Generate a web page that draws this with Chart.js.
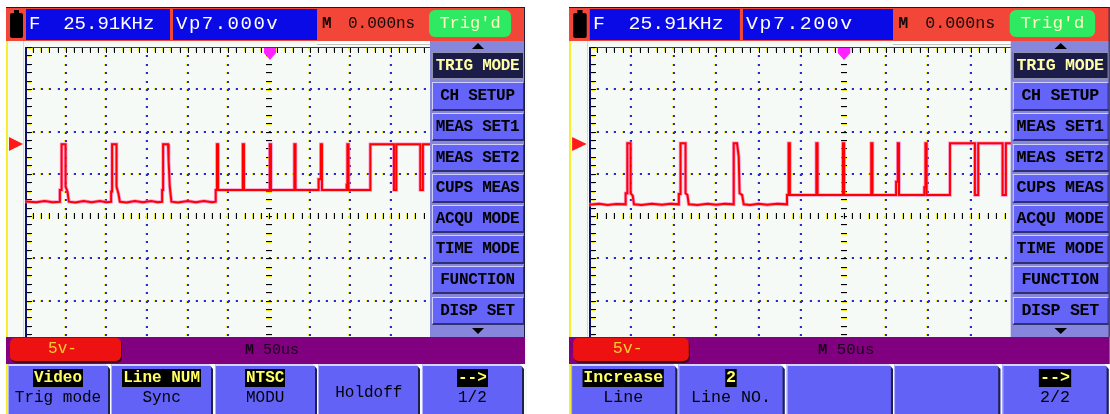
<!DOCTYPE html>
<html>
<head>
<meta charset="utf-8">
<script src="https://cdn.jsdelivr.net/npm/chart.js@4.4.1/dist/chart.umd.min.js"></script>
<style>
body { margin: 0; width: 1110px; height: 414px; background: #fff; position: relative; overflow: hidden; font-family: "Liberation Mono", "DejaVu Sans Mono", monospace; }
.bg { position: absolute; top: 7px; height: 407px; background: #f6faf6; }
.yl { position: absolute; top: 41px; height: 296px; width: 1px; background: #f0ec30; }
.plot { position: absolute; top: 47px; height: 338px; }
.fg { position: absolute; top: 0; width: 519px; height: 414px; transform-origin: 0 0; }
.fg div { position: absolute; box-sizing: border-box; }
.topbar { left: 0; top: 7px; width: 519px; height: 34px; background: #f24638; border-top: 1px solid #401010; border-right: 1px solid #202040; }
.batt { left: 4px; top: 13px; width: 13px; height: 25px; background: #000; border-radius: 2px; }
.nub { left: 8px; top: 10px; width: 5px; height: 4px; background: #000; }
.box { top: 9px; height: 31px; width: 144px; background: #0a0ae6; color: #fff; font-size: 19px; line-height: 31px; white-space: pre; }
.mt { top: 9px; height: 31px; line-height: 31px; font-size: 16px; color: #140808; white-space: pre; }
.trig { left: 423px; top: 10px; width: 82px; height: 27px; background: #2eea62; border-radius: 6px; color: #fffcc0; font-size: 17px; line-height: 27px; text-align: center; }
.mem { left: 311px; top: 41px; width: 113px; height: 4px; background: #fff; border-bottom: 1px solid #c0c0c0; }
.menu { left: 424px; top: 41px; width: 95px; height: 296px; background: #8686dc; border-right: 1px solid #202040; }
.up { left: 466px; top: 43px; width: 0; height: 0; border-left: 6px solid transparent; border-right: 6px solid transparent; border-bottom: 6px solid #000; }
.down { left: 466px; top: 328px; width: 0; height: 0; border-left: 6px solid transparent; border-right: 6px solid transparent; border-top: 6px solid #000; }
.mb { left: 425.5px; width: 92px; height: 28.5px; background: #6464f8; border-top: 1px solid #d0d0ff; border-left: 1px solid #d0d0ff; border-bottom: 2px solid #303070; border-right: 1px solid #303070; color: #000; font-size: 16px; font-weight: bold; line-height: 26px; text-align: center; white-space: pre; letter-spacing: -0.3px; }
.mb.sel { background: #1c1c48; color: #ffffa8; border-color: #9090b0; }
.purple { left: 0; top: 337px; width: 519px; height: 27px; background: #800080; }
.ch { left: 4px; top: 338px; width: 111px; height: 23px; background: #ee1111; border-radius: 5px; box-shadow: 1px 2px 0 #400020; color: #ffcc33; font-size: 16px; line-height: 23px; text-align: center; padding-right: 6px; }
.tb { left: 239px; top: 338px; height: 26px; line-height: 26px; font-size: 15px; color: #1a001a; white-space: pre; }
.key { top: 364px; height: 50px; width: 102px; background: #6262f6; border-top: 2px solid #d4d4ff; border-left: 1px solid #b0b0ff; border-right: 2px solid #20204c; }
.hi { left: 0; width: 100%; top: 3px; height: 17px; text-align: center; }
.hi span { background: #000; color: #ffff60; font-size: 16px; font-weight: bold; line-height: 17px; padding: 0 1px; white-space: pre; }
.lo { left: 0; width: 100%; top: 25px; height: 15px; text-align: center; color: #000; font-size: 16px; line-height: 15px; white-space: pre; }
.notch { top: 364px; width: 0; height: 0; border-left: 4px solid transparent; border-right: 4px solid transparent; border-top: 5px solid #fff; }
.tl { left: 3px; top: 137px; width: 0; height: 0; border-top: 7.5px solid transparent; border-bottom: 7.5px solid transparent; border-left: 14px solid #ff1a1a; }
.tp1 { left: 257.5px; top: 48px; width: 12px; height: 5px; background: #ff22ff; }
.tp2 { left: 257.5px; top: 53px; width: 0; height: 0; border-left: 6px solid transparent; border-right: 6px solid transparent; border-top: 7px solid #ff22ff; }
</style>
</head>
<body>
<div class="bg" style="left:6px;width:519px;border-left:2px solid #f4f030"></div>
<div class="yl" style="left:23px"></div>
<div class="plot" style="left:25px;width:488px"><canvas id="scope-left"></canvas></div>
<div class="fg" id="fg-left"></div>

<div class="bg" style="left:569px;width:541px;border-left:2px solid #f4f030"></div>
<div class="yl" style="left:587px"></div>
<div class="plot" style="left:589px;width:509px"><canvas id="scope-right"></canvas></div>
<div class="fg" id="fg-right"></div>

<script>
// Scope settings: 50us/div across 12 divisions, 5v/div across 8 divisions
const timeDivs = [-300, -250, -200, -150, -100, -50, 0, 50, 100, 150, 200, 250, 300];
const voltDivs = [-20, -15, -10, -5, 0, 5, 10, 15, 20];

const menuItems = ['TRIG MODE', 'CH SETUP', 'MEAS SET1', 'MEAS SET2', 'CUPS MEAS', 'ACQU MODE', 'TIME MODE', 'FUNCTION', 'DISP SET'];
const freqText = 'F  25.91KHz';
const leftVp = 'Vp7.000v';
const rightVp = 'Vp7.200v';
const leftKeyTop = ['Video', 'Line NUM', 'NTSC', '', '-->'];
const leftKeyBottom = ['Trig mode', 'Sync', 'MODU', 'Holdoff', '1/2'];
const rightKeyTop = ['Increase', '2', '', '', '-->'];
const rightKeyBottom = ['Line', 'Line NO.', '', '', '2/2'];

// Left trace (time in us, level in volts)
const leftTime = [-300, -286, -276, -266, -257.1, -257.1, -255, -255, -250.1, -250.1, -247.7, -246.1,
    -238, -228, -218, -208, -200, -194.1, -194.1, -192.9, -192.9, -187.5, -187.5, -185, -183.4,
    -175, -165, -155, -145, -137, -131.4, -131.4, -130.2, -130.2, -124.1, -123.4, -122, -120,
    -112, -100, -90, -80, -70, -65.5, -65.5, -64, -64, -62.6, -62.6,
    -32.2, -32.2, -30.8, -30.8,
    1, 1, 2.4, 2.4,
    31.2, 31.2, 32.6, 32.6,
    61, 61, 63.7, 63.7, 65.1, 65.1,
    95.5, 95.5, 96.4, 96.4, 97.8, 97.8,
    124.6, 124.6, 153.6, 153.6, 156.5, 156.5, 186, 186, 189.2, 189.2, 300];
const leftVolt = [1.72, 1.62, 1.78, 1.64, 1.69, 3.08, 3.08, 8.49, 8.49, 3.47, 2.88, 1.69,
    1.6, 1.76, 1.62, 1.78, 1.64, 1.69, 2.9, 2.9, 8.49, 8.49, 3.47, 2.6, 1.69,
    1.6, 1.76, 1.62, 1.78, 1.64, 1.69, 3.08, 3.08, 8.49, 8.49, 6.5, 3.47, 1.69,
    1.6, 1.76, 1.62, 1.78, 1.64, 1.69, 3.08, 3.08, 8.49, 8.49, 3.08,
    3.08, 8.49, 8.49, 3.08,
    3.08, 8.49, 8.49, 3.08,
    3.08, 8.49, 8.49, 3.08,
    3.08, 4.34, 4.34, 8.49, 8.49, 3.08,
    3.08, 3.7, 3.7, 8.49, 8.49, 3.08,
    3.08, 8.49, 8.49, 3.08, 3.08, 8.49, 8.49, 3.08, 3.08, 8.49, 8.49];

// Right trace (time in us, level in volts)
const rightTime = [-300, -288, -278, -268, -256.8, -256.8, -254.8, -254.8, -250.9, -250.9, -248.5, -247,
    -238, -226, -214, -204, -194.1, -194.1, -192.1, -192.1, -186.2, -186.2, -184, -182.4,
    -172, -160, -150, -140, -129.4, -129.4, -125.5, -123.5, -122.5, -119.5, -117.6,
    -110, -100, -90, -78, -66.6, -66.6, -64.7, -64.7, -63.2, -63.2,
    -32, -32, -30.6, -30.6,
    -0.7, -0.7, 0.7, 0.7,
    32.7, 32.7, 34.1, 34.1,
    62, 62, 64, 64, 65.4, 65.4,
    95.3, 95.3, 96.6, 96.6, 98, 98,
    125.5, 125.5, 154.9, 154.9, 158.8, 158.8, 187.5, 187.5, 191.4, 191.4, 300];
const rightVolt = [1.34, 1.44, 1.3, 1.42, 1.38, 2.69, 2.69, 8.6, 8.6, 2.69, 2.4, 1.38,
    1.3, 1.44, 1.32, 1.44, 1.38, 2.6, 2.6, 8.6, 8.6, 2.69, 2.5, 1.38,
    1.3, 1.44, 1.32, 1.44, 1.38, 8.6, 8.6, 7.0, 2.69, 2.49, 1.38,
    1.3, 1.44, 1.32, 1.44, 1.38, 2.49, 2.49, 8.6, 8.6, 2.49,
    2.49, 8.6, 8.6, 2.49,
    2.49, 8.6, 8.6, 2.49,
    2.49, 8.6, 8.6, 2.49,
    2.49, 4.06, 4.06, 8.6, 8.6, 2.49,
    2.49, 3.4, 3.4, 8.6, 8.6, 2.49,
    2.49, 8.6, 8.6, 2.49, 2.49, 8.6, 8.6, 2.49, 2.49, 8.6, 8.6];

// Dotted graticule, edge rulers and centre rulers, drawn from the scales
const graticule = {
    id: 'graticule',
    beforeDatasetsDraw(chart) {
        const { ctx, chartArea: a, scales: { x, y } } = chart;
        const minorT = (timeDivs[1] - timeDivs[0]) / 5;
        const minorV = (voltDivs[1] - voltDivs[0]) / 5;
        const dot = (px, py) => {
            px = Math.round(px); py = Math.round(py);
            ctx.fillStyle = '#f0ec20';
            ctx.fillRect(px - 1, py, 1, 2);
            ctx.fillStyle = '#2a2ad0';
            ctx.fillRect(px, py, 2, 2);
        };
        ctx.save();
        // horizontal dotted lines
        voltDivs.slice(1, -1).forEach(v => {
            if (v === 0) return;
            for (let t = timeDivs[0]; t <= timeDivs[timeDivs.length - 1]; t += minorT) {
                dot(x.getPixelForValue(t), y.getPixelForValue(v) - 1);
            }
        });
        // vertical dotted lines
        timeDivs.slice(1, -1).forEach(t => {
            if (t === 0) return;
            for (let v = voltDivs[0]; v <= voltDivs[voltDivs.length - 1]; v += minorV) {
                dot(x.getPixelForValue(t) - 1, y.getPixelForValue(v));
            }
        });
        // centre rulers
        const cx = Math.round(x.getPixelForValue(0));
        const cy = Math.round(y.getPixelForValue(0));
        for (let v = voltDivs[0]; v <= voltDivs[voltDivs.length - 1]; v += minorV) {
            const py = Math.round(y.getPixelForValue(v));
            ctx.fillStyle = '#f0ec20';
            ctx.fillRect(cx - 3, py + 1, 6, 1);
            ctx.fillStyle = '#000';
            ctx.fillRect(cx - 3, py, 6, 1);
        }
        for (let t = timeDivs[0]; t <= timeDivs[timeDivs.length - 1]; t += minorT) {
            const px = Math.round(x.getPixelForValue(t));
            ctx.fillStyle = '#f0ec20';
            ctx.fillRect(px - 1, cy - 3, 1, 6);
            ctx.fillStyle = '#000';
            ctx.fillRect(px, cy - 3, 1, 6);
        }
        // top edge ruler
        ctx.fillStyle = '#3030a0';
        ctx.fillRect(a.left, a.top, a.right - a.left, 1);
        for (let t = timeDivs[0]; t <= timeDivs[timeDivs.length - 1]; t += minorT) {
            const px = Math.round(x.getPixelForValue(t));
            ctx.fillStyle = '#f0ec20';
            ctx.fillRect(px - 1, a.top + 1, 1, 4);
            ctx.fillStyle = '#000';
            ctx.fillRect(px, a.top + 1, 1, 5);
        }
        // left edge ruler
        ctx.fillStyle = '#101070';
        ctx.fillRect(a.left, a.top, 2, a.bottom - a.top);
        for (let v = voltDivs[0]; v <= voltDivs[voltDivs.length - 1]; v += minorV) {
            const py = Math.round(y.getPixelForValue(v));
            ctx.fillStyle = '#f0ec20';
            ctx.fillRect(a.left + 2, py + 1, 4, 1);
            ctx.fillStyle = '#000';
            ctx.fillRect(a.left + 2, py, 5, 1);
        }
        ctx.restore();
    }
};

function makeScope(canvasId, times, volts) {
    const points = times.map((t, i) => ({ x: t, y: volts[i] }));
    return new Chart(document.getElementById(canvasId), {
        type: 'line',
        data: {
            datasets: [
                { data: points, borderColor: '#ff0000', borderWidth: 2, pointRadius: 0, tension: 0 },
                { data: points, borderColor: 'rgba(255, 110, 200, 0.7)', borderWidth: 3.6, pointRadius: 0, tension: 0 }
            ]
        },
        options: {
            animation: false,
            responsive: true,
            maintainAspectRatio: false,
            layout: { padding: 0 },
            scales: {
                x: { type: 'linear', min: timeDivs[0], max: timeDivs[timeDivs.length - 1], display: false },
                y: { min: voltDivs[0], max: voltDivs[voltDivs.length - 1], display: false }
            },
            plugins: { legend: { display: false }, tooltip: { enabled: false } }
        },
        plugins: [graticule]
    });
}

// Screen furniture: status bar, side menu and soft keys
function buildScreen(id, left, sx, vp, keyTop, keyBottom) {
    const fg = document.getElementById(id);
    fg.style.left = left + 'px';
    fg.style.transform = `scaleX(${sx})`;
    let html = '';
    html += '<div class="topbar"></div><div class="nub"></div><div class="batt"></div>';
    html += `<div class="box" style="left:20px;padding-left:3px">${freqText}</div>`;
    html += `<div class="box" style="left:167px;padding-left:3px;letter-spacing:1.5px">${vp}</div>`;
    html += '<div class="mt" style="left:316px;font-weight:bold">M</div>';
    html += '<div class="mt" style="left:342px">0.000ns</div>';
    html += '<div class="trig">Trig\'d</div>';
    html += '<div class="mem"></div>';
    html += '<div class="menu"></div><div class="up"></div><div class="down"></div>';
    menuItems.forEach((m, i) => {
        html += `<div class="mb${i === 0 ? ' sel' : ''}" style="top:${51.7 + i * 30.6}px">${m}</div>`;
    });
    html += '<div class="purple"></div>';
    html += '<div class="ch">5v-</div>';
    html += '<div class="tb"><b>M</b> 50us</div>';
    keyTop.forEach((k, i) => {
        const x = 1.5 + i * 103.6;
        let inner = '';
        if (k) inner += `<div class="hi"><span>${k}</span></div>`;
        if (keyBottom[i]) inner += `<div class="lo" style="top:${k ? 25 : 20}px">${keyBottom[i]}</div>`;
        html += `<div class="key" style="left:${x}px">${inner}</div>`;
        html += `<div class="notch" style="left:${x + 98}px"></div>`;
    });
    html += '<div class="tl"></div><div class="tp1"></div><div class="tp2"></div>';
    fg.innerHTML = html;
}

buildScreen('fg-left', 6, 1, leftVp, leftKeyTop, leftKeyBottom);
buildScreen('fg-right', 569, 1.0418, rightVp, rightKeyTop, rightKeyBottom);

makeScope('scope-left', leftTime, leftVolt);
makeScope('scope-right', rightTime, rightVolt);
</script>
</body>
</html>
